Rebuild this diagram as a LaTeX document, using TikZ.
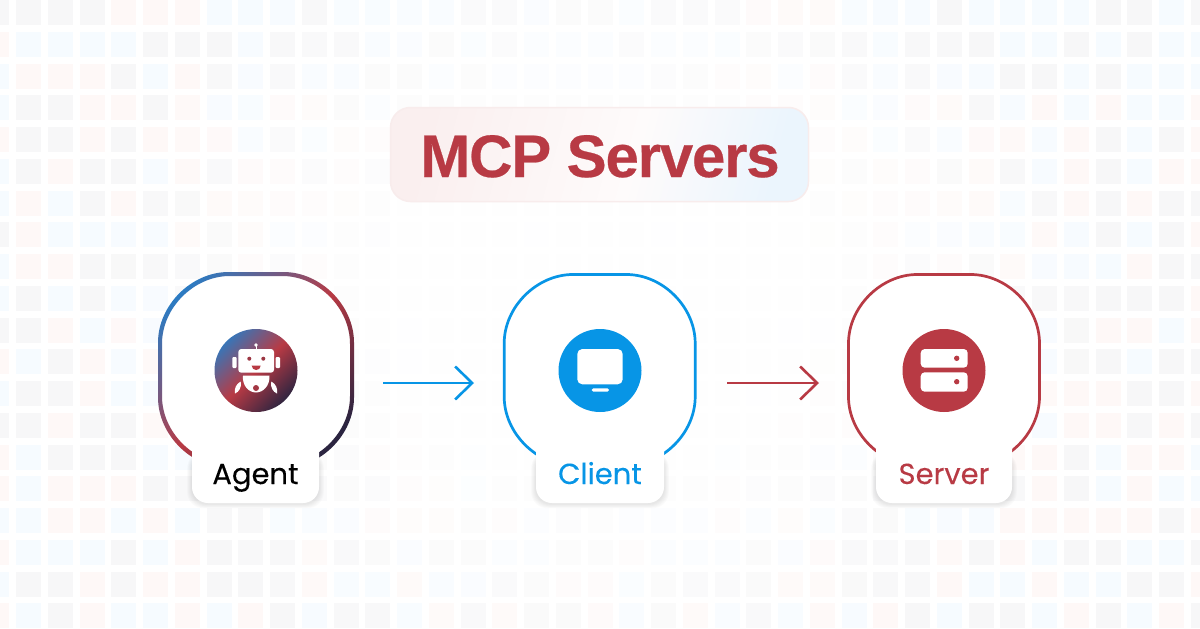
\documentclass[tikz,border=0pt]{standalone}
\usepackage{fontspec}
\setmainfont{Poppins}
\newfontfamily\titlefont[LetterSpace=-2,FakeBold=0.4]{Liberation Sans Bold}
\newfontfamily\labelfont[FakeBold=0.12]{Poppins}
\usetikzlibrary{arrows.meta}
\definecolor{cG}{HTML}{F7F7F8}
\definecolor{cR}{HTML}{FEF8F7}
\definecolor{cB}{HTML}{F6FBFF}
\definecolor{mcpred}{HTML}{B83A44}
\definecolor{mcpblue}{HTML}{0795E6}
\definecolor{gradblue}{HTML}{2A7CC4}
\definecolor{graddark}{HTML}{2B2440}
\definecolor{titleborder}{HTML}{F8ECEC}
\definecolor{titleleft}{HTML}{FAEFEF}
\definecolor{titlemid}{HTML}{FEFBFB}
\definecolor{titleright}{HTML}{EBF5FD}
\pgfdeclarehorizontalshading{agentgrad}{100bp}{color(0bp)=(gradblue); color(22bp)=(gradblue); color(50bp)=(mcpred); color(76bp)=(graddark); color(100bp)=(graddark)}
\pgfdeclarehorizontalshading{titlegrad}{100bp}{color(0bp)=(titleleft); color(25bp)=(titleleft); color(55bp)=(titlemid); color(75bp)=(titleright); color(100bp)=(titleright)}
\newcommand{\sqpath}[3]{({#1-#3},{#2-0.28*#3})
  .. controls ({#1-#3},{#2-0.66*#3}) and ({#1-0.66*#3},{#2-#3}) .. ({#1-0.28*#3},{#2-#3})
  -- ({#1+0.28*#3},{#2-#3})
  .. controls ({#1+0.66*#3},{#2-#3}) and ({#1+#3},{#2-0.66*#3}) .. ({#1+#3},{#2-0.28*#3})
  -- ({#1+#3},{#2+0.28*#3})
  .. controls ({#1+#3},{#2+0.66*#3}) and ({#1+0.66*#3},{#2+#3}) .. ({#1+0.28*#3},{#2+#3})
  -- ({#1-0.28*#3},{#2+#3})
  .. controls ({#1-0.66*#3},{#2+#3}) and ({#1-#3},{#2+0.66*#3}) .. ({#1-#3},{#2+0.28*#3}) -- cycle}
\newcommand{\pillshadow}[3]{\foreach \k in {1,...,6}{\fill[black,opacity=.016,rounded corners=16pt] ({#1-\k*0.8},452) rectangle ({#2+\k*0.8},{#3+1+\k*0.7});}}
\newcommand{\pillface}[3]{\fill[white] (#1,448) -- (#2,448) [rounded corners=16pt] -- (#2,#3) -- (#1,#3) [sharp corners] -- cycle;}
\tikzset{
  labeltext/.style={anchor=base,inner sep=0pt,font=\labelfont\fontsize{29}{29}\selectfont},
  iconcircle/.style={circle,minimum size=83pt,inner sep=0pt},
  linkarrow/.style={line width=2.6pt,-{Straight Barb[length=17pt,width=33pt,line width=2.6pt]}},
}
\begin{document}
\begin{tikzpicture}[x=1pt,y=-1pt]
\useasboundingbox (0,0) rectangle (1200,629);
\clip (0,0) rectangle (1200,629);
\fill[white] (0,0) rectangle (1200,629);
% background grid
\foreach \r/\row in {
0/{G,G,G,G,R,R,R,B,B,B,G,B,B,B,B,G,G,B,G,G,B,G,G,G,R,R,R,B,B,B,G,B,B,B,B,G,G,B,G},
1/{R,B,B,B,B,G,G,G,B,G,G,G,B,B,G,B,G,B,B,B,G,B,B,B,G,G,G,G,B,G,G,G,B,B,G,B,G,B,B},
2/{B,R,R,R,G,B,R,G,B,G,B,B,G,G,B,G,B,B,B,B,B,G,G,R,R,B,R,G,B,G,B,B,G,G,B,G,B,B,B},
3/{B,G,G,R,R,G,R,B,B,R,R,G,B,G,G,G,G,G,G,G,G,G,G,G,R,R,R,B,B,R,R,G,B,R,B,R,B,B,R},
4/{R,G,G,R,G,R,R,R,B,G,B,R,R,G,G,G,G,G,G,G,G,G,G,G,G,G,R,R,B,G,B,R,R,B,R,G,B,G,R},
5/{B,G,R,G,G,B,R,G,R,R,G,R,G,G,G,G,G,G,G,G,G,G,G,G,G,G,R,G,R,R,G,R,G,B,R,G,B,R,R},
6/{B,R,B,G,R,G,G,R,R,R,R,R,G,G,G,G,G,G,G,G,G,G,G,G,G,G,G,R,R,R,R,R,B,G,R,G,R,G,G},
7/{G,R,B,B,B,B,R,G,R,B,B,G,G,R,R,G,G,B,G,G,G,B,B,G,G,G,R,G,R,B,B,B,B,R,B,G,B,G,R},
8/{B,R,R,G,G,G,G,G,R,G,R,G,R,R,G,R,G,G,G,G,G,G,G,G,G,G,G,G,R,G,R,G,R,B,B,B,R,G,G},
9/{B,G,B,G,B,B,G,G,G,G,G,G,G,G,G,G,G,G,G,G,G,G,G,G,G,G,G,G,G,G,G,G,G,G,G,G,G,G,R},
10/{G,G,R,B,R,B,G,G,G,G,G,G,G,B,R,R,G,G,G,G,G,G,G,R,R,B,B,G,G,G,G,G,G,B,G,R,R,B,R},
11/{R,B,G,R,B,R,G,G,G,G,G,G,G,B,G,G,G,G,G,G,G,G,G,G,G,R,R,G,G,G,G,G,G,B,G,G,B,G,G},
12/{B,G,G,R,B,B,G,G,G,G,G,G,G,G,R,R,G,G,G,G,G,G,G,G,B,G,R,G,G,G,G,G,G,R,R,R,G,G,R},
13/{G,G,R,G,G,R,G,G,G,G,G,G,G,R,R,R,G,G,G,G,G,G,G,G,G,R,R,R,G,G,G,G,G,B,R,R,G,R,G},
14/{R,B,G,G,G,B,B,G,G,G,G,G,R,R,G,B,R,G,G,G,G,G,G,B,G,G,B,B,G,G,G,G,R,R,G,B,R,R,B},
15/{R,B,R,R,R,G,G,G,G,G,G,G,G,R,R,B,G,G,G,G,G,G,G,R,G,G,G,G,G,G,G,G,G,R,G,B,R,B,B},
16/{B,B,R,R,B,R,B,G,G,B,B,B,R,R,R,G,R,B,G,G,B,B,B,R,B,R,B,G,G,B,B,B,R,R,R,R,R,G,R},
17/{R,B,B,B,G,B,R,G,G,G,R,G,G,B,G,G,B,B,G,G,R,B,B,B,G,B,R,G,G,G,R,G,R,B,G,G,B,B,G},
18/{B,G,G,R,G,R,R,G,G,G,R,B,B,R,B,B,G,G,R,R,B,G,G,G,G,R,R,G,G,G,R,B,B,R,B,B,G,G,R},
19/{R,B,G,R,B,B,R,B,R,G,B,G,G,B,R,G,R,G,G,R,B,G,R,B,G,B,R,B,R,G,B,G,G,B,R,G,B,R,G}}{
  \foreach \c [count=\j from -1] in \row {
    \pgfmathsetmacro{\cx}{16+31.75*\j}
    \pgfmathsetmacro{\cy}{31.75*\r}
    \pgfmathsetmacro{\f}{max(0.1,min(1,(sqrt(pow((\cx+12.5-600)/420,2)+pow((\cy+12.5-300)/340,2))-0.45)/0.8))}
    \fill[c\c,opacity=\f] (\cx,\cy) rectangle ({\cx+25},{\cy+25});
  }
}
% pill shadows
\pillshadow{192}{319}{503}
\pillshadow{536}{664}{503}
\pillshadow{876}{1012}{503}
% rings
\fill[white] \sqpath{256}{370}{96};
\fill[white] \sqpath{599.7}{370}{96};
\fill[white] \sqpath{944}{370}{96};
\path[even odd rule,shade,shading=agentgrad,shading angle=-45] \sqpath{256}{370}{98} \sqpath{256}{370}{94};
\draw[mcpblue,line width=2.7pt] \sqpath{599.7}{370}{95.5};
\draw[mcpred,line width=2.7pt] \sqpath{944}{370}{95.5};
% pills and labels
\pillface{192}{319}{503}
\pillface{536}{664}{503}
\pillface{876}{1012}{503}
\node[labeltext,text=black] (agentlabel) at (255.5,484) {Agent};
\node[labeltext,text=mcpblue] (clientlabel) at (600,484) {Client};
\node[labeltext,text=mcpred] (serverlabel) at (944,484) {Server};
% title
\node[draw=titleborder,line width=1.5pt,shade,shading=titlegrad,shading angle=-15,rounded corners=20pt,minimum width=418pt,minimum height=94pt,inner sep=0pt] (titlebox) at (599.5,154.5) {};
\node[anchor=base,inner sep=0pt,text=mcpred,font=\titlefont\fontsize{60}{60}\selectfont] (title) at (600,177) {MCP Servers};
% arrows
\coordinate (a1s) at (383,383);
\coordinate (a1e) at (474,383);
\coordinate (a2s) at (727,383);
\coordinate (a2e) at (819,383);
\draw[linkarrow,mcpblue] (a1s) -- (a1e);
\draw[linkarrow,mcpred] (a2s) -- (a2e);
% agent icon
\node[iconcircle,shade,shading=agentgrad,shading angle=-45] (agenticon) at (256,370.5) {};
\fill[white,rounded corners=3pt] (238.3,349) rectangle (274,372.7);
\fill[white,rounded corners=1pt] (232.3,357) rectangle (236.7,368);
\fill[white,rounded corners=1pt] (275.7,357) rectangle (280,368);
\draw[white,line width=1pt] (256,345) -- (256,349);
\fill[white] (256,345) circle (1.8);
\fill[mcpred!80!graddark] (249.3,358.7) circle (2);
\fill[mcpred!80!graddark] (263.3,358.7) circle (2);
\fill[mcpred] (251.7,365.7) -- (260.7,365.7) .. controls (260.7,368.5) and (258.5,370) .. (256.2,370) .. controls (253.9,370) and (251.7,368.5) .. (251.7,365.7) -- cycle;
\fill[white] (243,375.5) -- (269.5,375.5) .. controls (270,386) and (263,392.5) .. (256,392.5) .. controls (249,392.5) and (242,386) .. (243,375.5) -- cycle;
\fill[mcpred!85!graddark] (256,388) circle (3);
\fill[white] (240.7,381.5) .. controls (236,384) and (234,389) .. (235,393.5) .. controls (239,392) and (242,387) .. (240.7,381.5) -- cycle;
\fill[white] (271.3,381.5) .. controls (276,384) and (278,389) .. (277,393.5) .. controls (273,392) and (270,387) .. (271.3,381.5) -- cycle;
% client icon
\node[iconcircle,fill=mcpblue] (clienticon) at (600,370.5) {};
\fill[white,rounded corners=5pt] (577.3,349) rectangle (622.7,384.3);
\fill[white,rounded corners=1.5pt] (591.7,388.3) rectangle (609,391.7);
% server icon
\node[iconcircle,fill=mcpred] (servericon) at (944,370.5) {};
\fill[white,rounded corners=4pt] (920.7,349) rectangle (967.7,367.7);
\fill[white,rounded corners=4pt] (920.7,372.3) rectangle (967.7,391.7);
\fill[mcpred] (956.7,358.3) circle (2.7);
\fill[mcpred] (956.7,381.7) circle (2.7);
\end{tikzpicture}
\end{document}
